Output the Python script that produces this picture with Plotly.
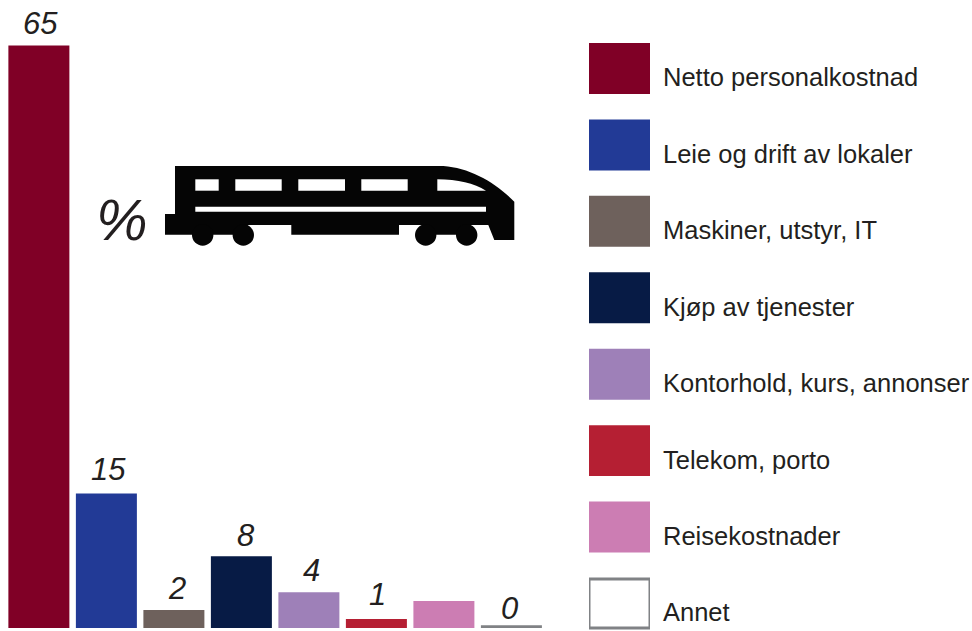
import re
import plotly.graph_objects as go

categories = ["Netto personalkostnad", "Leie og drift av lokaler", "Maskiner, utstyr, IT",
              "Kjøp av tjenester", "Kontorhold, kurs, annonser", "Telekom, porto",
              "Reisekostnader", "Annet"]
values = [65, 15, 2, 8, 4, 1, 3, 0]
value_labels = ["65", "15", "2", "8", "4", "1", "", "0"]
colors = ["#800026", "#223A96", "#6E615C", "#071B45", "#9E80B8", "#B51F33", "#CC7DB3", "#FFFFFF"]

W, H = 972, 631
TEXT = "#231F20"
FONT = "Liberation Sans"
GRAY = "#808285"
INK = "#050505"

# per-label nudges to follow the reference's hand placement (px)
label_dx = [2, 2.5, 3, 5, 2.5, 1, 0, -2]
label_dy = [5, 7, 4, 3, 4, 7, 0, 2]

fig = go.Figure()
idx = list(range(len(categories)))
fig.add_trace(go.Bar(
    x=idx, y=values, width=61 / 67.5,
    base=[0] * 7 + [0.15],
    marker=dict(color=[c if c != "#FFFFFF" else GRAY for c in colors],
                line=dict(color=GRAY, width=[0] * 7 + [3])),
    cliponaxis=False, hoverinfo="skip", showlegend=False,
    xaxis="x", yaxis="y"))
fig.add_trace(go.Bar(
    orientation="h", y=idx, x=[1] * len(idx),
    width=[0.667] * 7 + [0.64],
    marker=dict(color=colors, line=dict(color=GRAY, width=[0] * 7 + [3])),
    cliponaxis=False, hoverinfo="skip", showlegend=False,
    xaxis="x2", yaxis="y2"))

annotations = []
for i, lab in enumerate(value_labels):
    if lab:
        annotations.append(dict(x=i, y=values[i], xref="x", yref="y", text=lab, showarrow=False,
                                xanchor="center", yanchor="bottom", xshift=label_dx[i], yshift=label_dy[i] - 2,
                                font=dict(family=FONT, size=31, color=TEXT, style="italic")))
for i, c in enumerate(categories):
    annotations.append(dict(x=661 / W, xref="paper", y=i, yref="y2", text=c, showarrow=False,
                            xanchor="left", yanchor="middle", yshift=-9,
                            font=dict(family=FONT, size=25.5, color=TEXT)))
annotations.append(dict(x=122 / W, y=1 - 219 / H, xref="paper", yref="paper", text="%", showarrow=False,
                        xanchor="center", yanchor="middle",
                        font=dict(family=FONT, size=58, color=TEXT, style="italic")))


def px_path(d):
    return re.sub(r"([\d.]+),([\d.]+)",
                  lambda m: f"{float(m[1]) / W:.5f},{1 - float(m[2]) / H:.5f}", d)


def path(d, color):
    return dict(type="path", xref="paper", yref="paper", path=px_path(d),
                fillcolor=color, line=dict(width=0), layer="above")


def rect(x0, y0, x1, y1, color):
    return path(f"M{x0},{y0} L{x1},{y0} L{x1},{y1} L{x0},{y1} Z", color)


def wheel(cx, cy, r):
    return dict(type="circle", xref="paper", yref="paper", x0=(cx - r) / W, x1=(cx + r) / W,
                y0=1 - (cy + r) / H, y1=1 - (cy - r) / H, fillcolor=INK, line=dict(width=0), layer="above")


shapes = [
    path("M175,166 L443.3,166 C470,168 495,182 514.3,201.7 L514.3,240 L494.3,240 L488.3,225 "
         "L399,225 L399,234.7 L291.3,234.7 L291.3,225 L247.7,225 L247.7,234.7 L165,234.7 L165,214 L175,214 Z", INK),
    rect(425.7, 225, 466.7, 234.7, INK),
    rect(195.3, 179.3, 218.7, 190.7, "#FFFFFF"),
    rect(235.3, 179.3, 281.7, 190.7, "#FFFFFF"),
    rect(298.3, 179.3, 345, 190.7, "#FFFFFF"),
    rect(361.3, 179.3, 407.7, 190.7, "#FFFFFF"),
    path("M437.3,179.3 C458,179.6 474,183 486,190.7 L437.3,190.7 Z", "#FFFFFF"),
    rect(195.3, 206.7, 486, 211.7, "#FFFFFF"),
]
for cx in (202.7, 243.3, 425.7, 466.7):
    shapes.append(wheel(cx, 235, 10.7))

hidden = dict(visible=False, showgrid=False, zeroline=False, fixedrange=True)
fig.update_layout(
    width=W, height=H, autosize=False,
    margin=dict(l=0, r=0, t=0, b=0),
    paper_bgcolor="#FFFFFF", plot_bgcolor="rgba(0,0,0,0)",
    showlegend=False,
    xaxis=dict(domain=[0, 549 / W], range=[-0.576, 7.557], **hidden),
    yaxis=dict(domain=[3 / H, 1], range=[0, 628 / 8.96], **hidden),
    xaxis2=dict(domain=[589 / W, 650 / W], range=[0, 1], anchor="y2", **hidden),
    yaxis2=dict(domain=[0, 1], range=[7.36, -0.896], anchor="x2", **hidden),
    annotations=annotations, shapes=shapes,
)
fig.write_html("out.html", config=dict(displayModeBar=False),
               post_script="document.body.style.margin='0';")
